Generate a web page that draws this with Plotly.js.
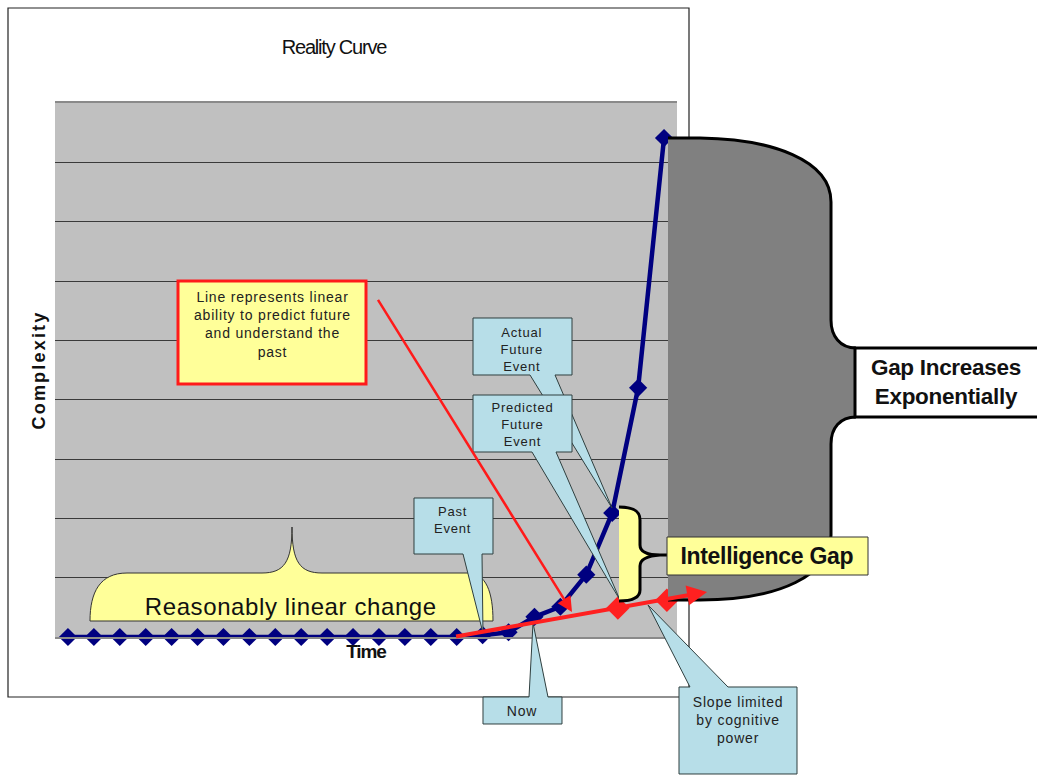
<!DOCTYPE html>
<html><head><meta charset="utf-8">
<script src="https://cdn.plot.ly/plotly-3.0.1.min.js"></script>
<style>
html,body{margin:0;padding:0;background:#fff;}
#chart{width:1037px;height:776px;}
.ytitle{letter-spacing:2.2px;}
.xtitle{letter-spacing:-1.1px;}
.gtitle{letter-spacing:-1.2px;}
</style></head><body><div id="chart"></div>
<script>
// ---- data ----
const timeSteps = [0,1,2,3,4,5,6,7,8,9,10,11,12,13,14,15,16,17,18,19,20,21,22,23];
const complexity = [0,0,0,0,0,0,0,0,0,0,0,0,0,0,0,0,0.03,0.08,0.34,0.51,1.05,2.09,4.2,8.41];
const predictedX = [21.22, 23.11];
const predictedY = [0.49, 0.62];
const predictionLineX = [14.86, 24.66];
const predictionLineY = [0, 0.76];

const chartTitle = 'Reality Curve';
const xTitle = 'Time';
const yTitle = 'Complexity';
const noteText = 'Line represents linear<br>ability to predict future<br>and understand the<br>past';
const actualText = 'Actual<br>Future<br>Event';
const predictedText = 'Predicted<br>Future<br>Event';
const pastText = 'Past<br>Event';
const nowText = 'Now';
const slopeText = 'Slope limited<br>by cognitive<br>power';
const linearText = 'Reasonably linear change';
const gapText = 'Gap Increases<br>Exponentially';
const intelText = 'Intelligence Gap';

// ---- layout helpers (pixel -> paper) ----
const L = 55, T = 103, W = 622, H = 534;
const fx = X => (X - L) / W;
const fy = Y => (T + H - Y) / H;
const P = d => d.replace(/(-?[\d.]+),(-?[\d.]+)/g, (m, a, b) => fx(+a).toFixed(5) + ',' + fy(+b).toFixed(5));

const YEL = '#FFFF99', CALL = '#B7DEE8', CALLLINE = '#2F3F3F';
const NARROW = '"Liberation Sans Narrow","Arial Narrow","Liberation Sans",sans-serif';
const SANS = '"Liberation Sans",Arial,sans-serif';

function pathShape(d, fill, lineColor, lineWidth) {
  return {type:'path', xref:'paper', yref:'paper', path:P(d), fillcolor:fill,
          line:{color:lineColor, width:lineWidth}, layer:'above'};
}
function rectShape(x0, y0, x1, y1, fill, lineColor, lineWidth, layer) {
  return {type:'rect', xref:'paper', yref:'paper', x0:fx(x0), x1:fx(x1), y0:fy(y1), y1:fy(y0),
          fillcolor:fill, line:{color:lineColor, width:lineWidth}, layer:layer || 'above'};
}
function label(X, Y, text, size, opts) {
  opts = opts || {};
  return {xref:'paper', yref:'paper', x:fx(X), y:fy(Y), text:text, showarrow:false,
          xanchor:'center', yanchor:'middle', align:'center',
          font:{family:SANS, size:size, color:opts.color || '#222', weight:opts.weight || 'normal'}};
}

const shapes = [
  rectShape(8, 8, 689, 697, 'rgba(0,0,0,0)', '#222', 1.2, 'below'),
  // reasonably linear brace
  pathShape('M90,621 C90,592 100,573 127,573 L262,573 C284,573 292,562 292,527 C292,562 300,573 322,573 L468,573 C486,573 493,592 493,621 Z', YEL, '#333', 1),
  // callouts
  pathShape('M473,318 L572,318 L572,375 L555,375 L612,508 L530,375 L473,375 Z', CALL, CALLLINE, 1),
  pathShape('M473,395 L572,395 L572,452 L556,452 L620,600 L532,452 L473,452 Z', CALL, CALLLINE, 1),
  pathShape('M414,498 L493,498 L493,554 L482,554 L483,633 L463,554 L414,554 Z', CALL, CALLLINE, 1),
  pathShape('M483,697 L529,697 L533,623 L548,697 L562,697 L562,724 L483,724 Z', CALL, CALLLINE, 1),
  pathShape('M679,687 L690,687 L648,605 L728,687 L797,687 L797,774 L679,774 Z', CALL, CALLLINE, 1),
  // red bordered note
  rectShape(178, 281, 366, 384, YEL, '#FF1A1A', 3),
  // gap brace (dark gray)
  pathShape('M668,138 L700,138 C772,139 831,160 831,202 L831,320 C831,336 840,348 856,348 L856,417 C840,417 831,428 831,444 L831,535 C831,575 780,600 700,600 L668,600 Z', '#808080', 'rgba(0,0,0,0)', 0),
  pathShape('M668,138 L700,138 C772,139 831,160 831,202 L831,320 C831,336 840,348 856,348 M856,417 C840,417 831,428 831,444 L831,535 C831,575 780,600 700,600 L668,600', 'rgba(0,0,0,0)', '#000', 3),
  rectShape(855, 348, 1045, 417, '#FFFFFF', '#000', 3),
  // intelligence gap brace
  pathShape('M619,507 C632,507 640,510 640,520 L640,545 C640,551 646,555 660,555 C646,556 640,560 640,566 L640,590 C640,598 632,601 619,601 Z', YEL, 'rgba(0,0,0,0)', 0),
  pathShape('M619,507 C632,507 640,510 640,520 L640,545 C640,551 646,555 660,555 L668,555 M660,555 C646,556 640,560 640,566 L640,590 C640,598 632,601 619,601', 'rgba(0,0,0,0)', '#000', 3),
  rectShape(667, 537, 868, 575, YEL, '#333', 1)
];

const annotations = [
  label(272, 324, noteText, 14),                       // 0
  label(522, 349, actualText, 13),                     // 1
  label(522, 425, predictedText, 13),                  // 2
  label(453, 520, pastText, 13),                       // 3
  label(522, 711, nowText, 14),                        // 4
  label(738, 720, slopeText, 14),                      // 5
  label(291, 606, linearText, 24, {color:'#111'}),     // 6
  label(946, 382, gapText, 22.5, {color:'#111', weight:'bold'}),   // 7
  label(767, 556, intelText, 23, {color:'#111', weight:'bold'}),   // 8
  // arrow from the note
  {xref:'paper', yref:'paper', x:fx(572), y:fy(612), ax:-197, ay:-317, axref:'pixel', ayref:'pixel',
   text:' ', showarrow:true, arrowcolor:'#FF1A1A', arrowwidth:2.5, arrowhead:2, arrowsize:1.2, standoff:0},
  // linear prediction line with arrow (data coordinates)
  {xref:'x', yref:'y', x:predictionLineX[1], y:predictionLineY[1], axref:'x', ayref:'y',
   ax:predictionLineX[0], ay:predictionLineY[0], text:' ', showarrow:true,
   arrowcolor:'#FF2020', arrowwidth:4, arrowhead:2, arrowsize:1, standoff:0}
];

// letter spacing for the callout texts (Excel-like rendering)
const css = document.createElement('style');
css.textContent = [0,1,2,3,4,5].map(i => '.annotation[data-index="'+i+'"] .annotation-text{letter-spacing:0.8px;}').join('') +
  '.annotation[data-index="6"] .annotation-text{letter-spacing:0.6px;}' +
  '.annotation[data-index="7"] .annotation-text,.annotation[data-index="8"] .annotation-text{letter-spacing:-0.3px;}';
document.head.appendChild(css);

const traces = [
  {x:timeSteps, y:complexity, type:'scatter', mode:'lines+markers', cliponaxis:false,
   line:{color:'#000080', width:4.5}, marker:{symbol:'diamond', size:14, color:'#000080'},
   hoverinfo:'skip'},
  {x:predictedX, y:predictedY, type:'scatter', mode:'markers', cliponaxis:false,
   marker:{symbol:'diamond', size:18, color:'#FF2020'}, hoverinfo:'skip'}
];

const layout = {
  width:1037, height:776,
  margin:{l:L, r:1037 - L - W, t:T, b:776 - T - H, pad:0},
  paper_bgcolor:'#FFFFFF', plot_bgcolor:'#C0C0C0',
  showlegend:false,
  font:{family:SANS},
  title:{text:chartTitle, xref:'container', yref:'container', x:334/1037, y:1 - 47/776,
         xanchor:'center', yanchor:'middle', font:{family:NARROW, size:20, color:'#111'}},
  xaxis:{range:[-0.5, 23.5], showgrid:false, zeroline:false, showticklabels:false, ticks:'',
         showline:true, mirror:true, linecolor:'#8A8A8A', linewidth:2,
         title:{text:xTitle, standoff:7, font:{family:NARROW, size:19, color:'#111', weight:'bold'}}},
  yaxis:{range:[0, 9], dtick:1, showgrid:true, gridcolor:'#3A3A3A', gridwidth:1, zeroline:false,
         showticklabels:false, ticks:'',
         title:{text:yTitle, standoff:3, font:{family:NARROW, size:18, color:'#111', weight:'bold'}}},
  shapes:shapes,
  annotations:annotations
};

Plotly.newPlot('chart', traces, layout, {staticPlot:true, displayModeBar:false});
</script>
</body></html>
